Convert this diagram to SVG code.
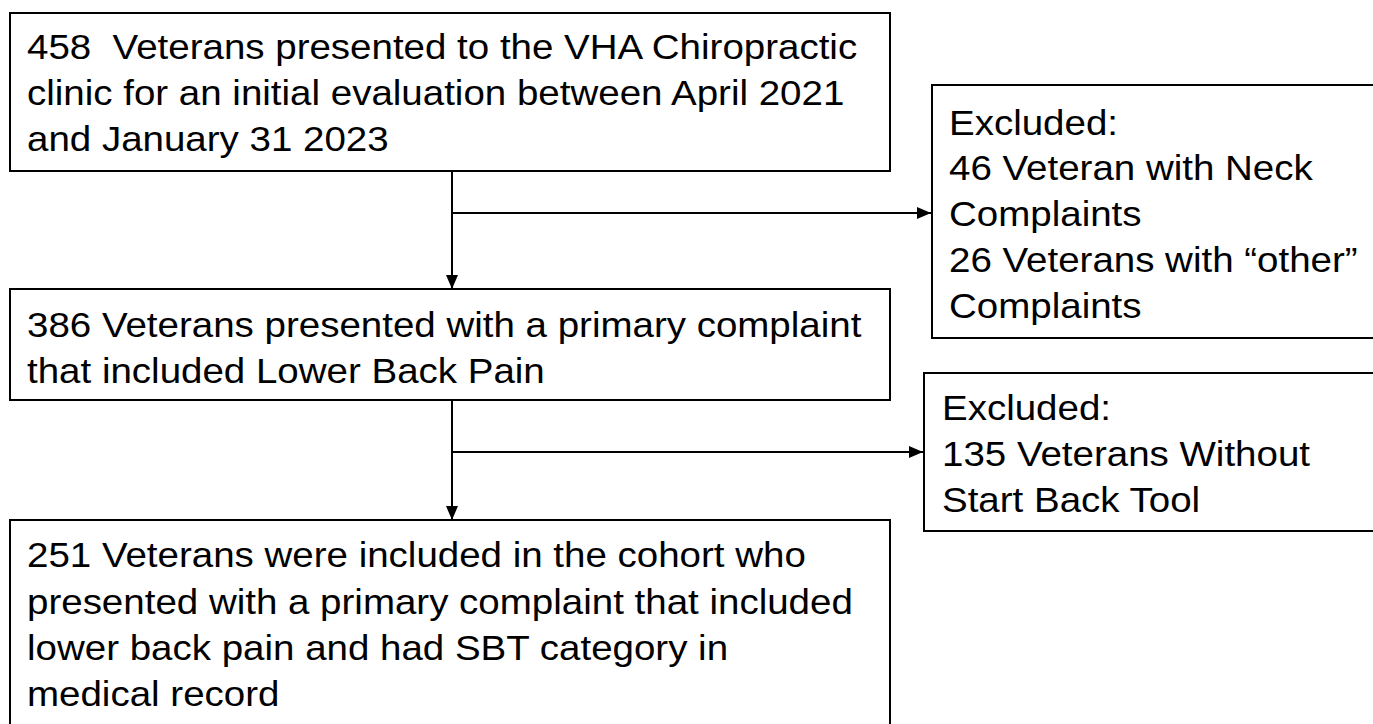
<svg xmlns="http://www.w3.org/2000/svg" width="1373" height="724" viewBox="0 0 1373 724">
<style>
.box{fill:#fff;stroke:#000;stroke-width:2}
.t{font-family:"Liberation Sans",Arial,sans-serif;font-size:35px;fill:#000}
.c{stroke:#000;stroke-width:2;fill:none}
</style>
<defs>
<marker id="ah" viewBox="0 0 14 12" refX="14" refY="6" markerWidth="14" markerHeight="12" markerUnits="userSpaceOnUse" orient="auto">
<path d="M0,0 L14,6 L0,12 Z" fill="#000"/>
</marker>
</defs>
<rect width="1373" height="724" fill="#fff"/>
<g id="connectors">
<line class="c" x1="452" y1="171" x2="452" y2="289" marker-end="url(#ah)"/>
<line class="c" x1="452" y1="213" x2="931" y2="213" marker-end="url(#ah)"/>
<line class="c" x1="452" y1="400" x2="452" y2="520" marker-end="url(#ah)"/>
<line class="c" x1="452" y1="452" x2="923" y2="452" marker-end="url(#ah)"/>
</g>
<g id="node1">
<rect class="box" x="10" y="13" width="880" height="158"/>
<g transform="translate(27,0) scale(1.1,1)">
<text class="t" x="0" y="59" xml:space="preserve">458  Veterans presented to the VHA Chiropractic</text>
<text class="t" x="0" y="105">clinic for an initial evaluation between April 2021</text>
<text class="t" x="0" y="151">and January 31 2023</text>
</g>
</g>
<g id="excl1">
<rect class="box" x="932" y="85" width="450" height="253"/>
<g transform="translate(949,0) scale(1.1,1)">
<text class="t" x="0" y="135">Excluded:</text>
<text class="t" x="0" y="180">46 Veteran with Neck</text>
<text class="t" x="0" y="226">Complaints</text>
<text class="t" x="0" y="272">26 Veterans with “other”</text>
<text class="t" x="0" y="318">Complaints</text>
</g>
</g>
<g id="node2">
<rect class="box" x="10" y="289" width="880" height="111"/>
<g transform="translate(27,0) scale(1.1,1)">
<text class="t" x="0" y="337">386 Veterans presented with a primary complaint</text>
<text class="t" x="0" y="383">that included Lower Back Pain</text>
</g>
</g>
<g id="excl2">
<rect class="box" x="924" y="373" width="460" height="158"/>
<g transform="translate(942,0) scale(1.1,1)">
<text class="t" x="0" y="420">Excluded:</text>
<text class="t" x="0" y="466">135 Veterans Without</text>
<text class="t" x="0" y="512">Start Back Tool</text>
</g>
</g>
<g id="node3">
<rect class="box" x="10" y="520" width="880" height="220"/>
<g transform="translate(27,0) scale(1.1,1)">
<text class="t" x="0" y="567">251 Veterans were included in the cohort who</text>
<text class="t" x="0" y="614">presented with a primary complaint that included</text>
<text class="t" x="0" y="660">lower back pain and had SBT category in</text>
<text class="t" x="0" y="706">medical record</text>
</g>
</g>
</svg>
